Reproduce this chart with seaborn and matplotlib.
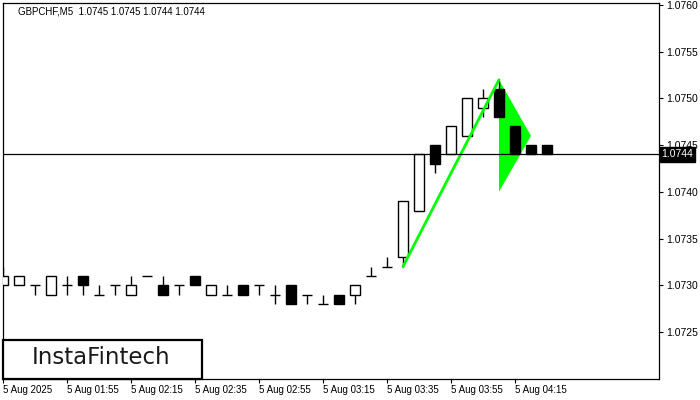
import numpy as np
import pandas as pd
import matplotlib
matplotlib.use("Agg")
import matplotlib.pyplot as plt
from matplotlib.patches import Rectangle
import seaborn as sns

# candles GBPCHF M5 (okunan degerler)
opens = [1.0730, 1.0730, 1.0730, 1.0729, 1.0730, 1.0731, 1.0729, 1.0730, 1.0729,
         1.0731, 1.0730, 1.0730, 1.0731, 1.0729, 1.0729, 1.0730, 1.0730, 1.0729,
         1.0730, 1.0729, 1.0728, 1.0729, 1.0729, 1.0731, 1.0732, 1.0733, 1.0738,
         1.0745, 1.0744, 1.0746, 1.0749, 1.0751, 1.0747, 1.0745, 1.0745]
highs = [1.0732, 1.0731, 1.0730, 1.0731, 1.0731, 1.0731, 1.0730, 1.0730, 1.0731,
         1.0731, 1.0731, 1.0730, 1.0731, 1.0730, 1.0730, 1.0730, 1.0730, 1.0730,
         1.0730, 1.0729, 1.0729, 1.0729, 1.0730, 1.0732, 1.0733, 1.0739, 1.0744,
         1.0745, 1.0747, 1.0750, 1.0751, 1.0752, 1.0747, 1.0745, 1.0745]
lows = [1.0730, 1.0730, 1.0729, 1.0729, 1.0729, 1.0729, 1.0729, 1.0729, 1.0729,
        1.0731, 1.0729, 1.0729, 1.0730, 1.0729, 1.0729, 1.0729, 1.0729, 1.0728,
        1.0728, 1.0728, 1.0728, 1.0728, 1.0728, 1.0731, 1.0732, 1.0732, 1.0738,
        1.0742, 1.0744, 1.0746, 1.0748, 1.0748, 1.0744, 1.0744, 1.0744]
closes = [1.0731, 1.0731, 1.0730, 1.0731, 1.0730, 1.0730, 1.0729, 1.0730, 1.0730,
          1.0731, 1.0729, 1.0730, 1.0730, 1.0730, 1.0729, 1.0729, 1.0730, 1.0729,
          1.0728, 1.0729, 1.0728, 1.0728, 1.0730, 1.0731, 1.0732, 1.0739, 1.0744,
          1.0743, 1.0747, 1.0750, 1.0750, 1.0748, 1.0744, 1.0744, 1.0744]

# pattern (flagpole + pennant)
pole_x = [25, 31]
pole_y = [1.0732, 1.0752]
flag_x = [31, 31, 33]
flag_y = [1.0752, 1.0740, 1.0746]

last_price = 1.0744
title = "GBPCHF,M5  1.0745 1.0745 1.0744 1.0744"

x_tick_pos = [0, 4, 8, 12, 16, 20, 24, 28, 32]
x_tick_labels = ["5 Aug 2025", "5 Aug 01:55", "5 Aug 02:15", "5 Aug 02:35",
                 "5 Aug 02:55", "5 Aug 03:15", "5 Aug 03:35", "5 Aug 03:55",
                 "5 Aug 04:15"]
y_ticks = [1.0725, 1.0730, 1.0735, 1.0740, 1.0745, 1.0750, 1.0755, 1.0760]

df = pd.DataFrame({"open": opens, "high": highs, "low": lows, "close": closes})
df["i"] = np.arange(len(df))
df["bull"] = df["close"] >= df["open"]

sns.set_style("white")
plt.rcParams["font.family"] = ["Liberation Sans", "DejaVu Sans"]

fig = plt.figure(figsize=(7, 4), dpi=100)
ax = fig.add_axes([3 / 700, 21 / 400, 656.3 / 700, 376.3 / 400])

# pennant ucgen
ax.fill(flag_x, flag_y, color="#00ff00", lw=0, zorder=1)

# fitiller
ax.vlines(df["i"], df["low"], df["high"], color="black", lw=1, zorder=2)

# govdeler
body_lo = df[["open", "close"]].min(axis=1)
body_h = (df["close"] - df["open"]).abs()
faces = np.where(df["bull"], "white", "black")
ax.bar(df["i"], body_h, bottom=body_lo, width=0.65, color=faces,
       edgecolor="black", linewidth=1, zorder=3)

# flagpole cizgisi
sns.lineplot(x=pole_x, y=pole_y, color="#00ff00", lw=2, ax=ax, zorder=4)

ax.axhline(last_price, color="black", lw=0.9, zorder=5)

ax.set_xlim(0, 41.02)
ax.set_ylim(1.071996, 1.076025)

ax.set_xticks(x_tick_pos)
ax.set_xticklabels(x_tick_labels)
ax.set_yticks(y_ticks)
ax.set_yticklabels([f"{v:.4f}" for v in y_ticks])
ax.yaxis.tick_right()
ax.tick_params(axis="x", bottom=True, direction="out", length=3, width=0.8,
               labelsize=7, pad=1.5, colors="black")
ax.tick_params(axis="y", right=True, left=False, direction="out", length=3,
               width=0.8, labelsize=7.5, pad=2, colors="black")
plt.setp(ax.get_xticklabels(), ha="left")
for s in ax.spines.values():
    s.set_color("black")
    s.set_linewidth(0.9)

# son fiyat etiketi
ax.text(1.0035, last_price, f"{last_price:.4f}", transform=ax.get_yaxis_transform(),
        ha="left", va="center", color="white", fontsize=7.5, clip_on=False,
        zorder=6, bbox=dict(boxstyle="square,pad=0.2", fc="black", ec="black"))

fig.text(18 / 700, 1 - 11 / 400, title, ha="left", va="center", fontsize=7,
         color="black")

# logo kutusu
fig.patches.append(Rectangle((3 / 700, 21 / 400), 198.7 / 700, 39 / 400,
                             transform=fig.transFigure, fc="white",
                             ec="black", lw=1.6, zorder=10))
fig.text(101 / 700, 1 - 357.5 / 400, "InstaFintech", ha="center", va="center",
         fontsize=16.5, family="DejaVu Sans", color="#1a1a1a", zorder=11)

plt.savefig("out.png", dpi=100)
